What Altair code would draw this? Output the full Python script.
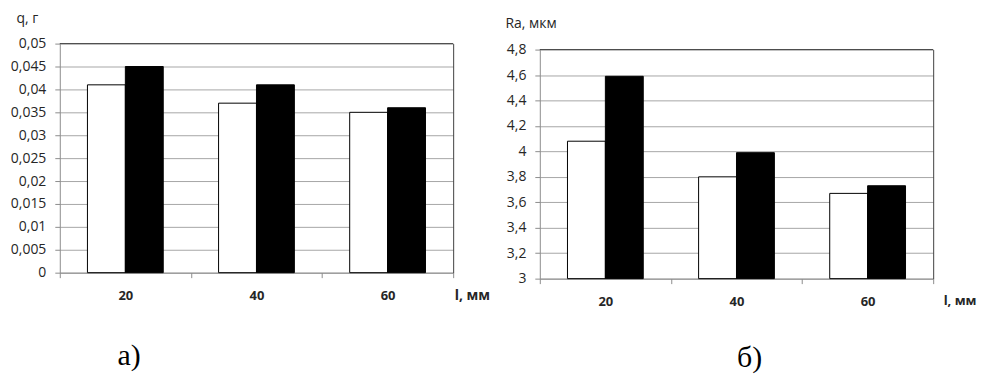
import altair as alt
import pandas as pd

# ---- data ----
lengths = ["20", "40", "60"]
series = ["1", "2"]
q_white = [0.041, 0.037, 0.035]
q_black = [0.045, 0.041, 0.036]
ra_white = [4.08, 3.80, 3.67]
ra_black = [4.59, 3.99, 3.73]
q_ticks = [0, 0.005, 0.01, 0.015, 0.02, 0.025, 0.03, 0.035, 0.04, 0.045, 0.05]
ra_ticks = [3, 3.2, 3.4, 3.6, 3.8, 4, 4.2, 4.4, 4.6, 4.8]

FONT = "Open Sans"
TEXT = "#262626"
GRID = "#a6a6a6"
AXIS = "#8c8c8c"
FRAME = "#404040"
LABEL_EXPR = "replace(toString(datum.value), '.', ',')"


def panel(white, black, ticks, ytitle, ytx, yty, xtx, xty, xtsize, letter, lx, ly,
          height, rng):
    df = pd.DataFrame({
        "l": lengths * 2,
        "s": [series[0]] * len(lengths) + [series[1]] * len(lengths),
        "v": white + black,
    })
    yscale = alt.Scale(domain=[ticks[0], ticks[-1]], range=rng, nice=False, zero=False)
    bars = alt.Chart(df).mark_bar(stroke="black", strokeWidth=1).encode(
        x=alt.X(
            "l:N", sort=lengths,
            scale=alt.Scale(paddingInner=0, paddingOuter=0),
            axis=alt.Axis(
                title="l, мм", titleX=xtx, titleY=xty, titleAlign="left",
                titleAngle=0, titleBaseline="middle", titleFontWeight="bold",
                titleFontSize=xtsize,
                tickBand="extent", tickSize=5, tickColor=AXIS, domainColor=AXIS,
                labelAngle=0, labelPadding=12, labelFontWeight="bold",
                labelFontSize=13, grid=False,
            ),
        ),
        xOffset=alt.XOffset("s:N", sort=series,
                            scale=alt.Scale(paddingInner=0, paddingOuter=0.73)),
        y=alt.Y(
            "v:Q", scale=yscale,
            axis=alt.Axis(
                values=ticks, labelExpr=LABEL_EXPR, title=ytitle,
                titleAngle=0, titleAlign="left", titleBaseline="middle",
                titleX=ytx, titleY=yty, grid=True, gridColor=GRID,
                tickSize=5, tickColor=AXIS, domainColor=AXIS, labelPadding=9,
            ),
        ),
        y2=alt.datum(ticks[0]),
        color=alt.Color("s:N", scale=alt.Scale(domain=series, range=["white", "black"]),
                        legend=None),
    )
    top = alt.Chart(pd.DataFrame({"v": [ticks[-1]]})).mark_rule(
        color=FRAME, strokeWidth=1
    ).encode(
        y=alt.Y("v:Q", scale=yscale,
                axis=alt.Axis(orient="right", labels=False, ticks=False, grid=False,
                              title=None, domainColor=FRAME)),
    )
    lab = alt.Chart(pd.DataFrame({"t": [letter]})).mark_text(
        font="Liberation Serif", fontSize=30, align="left", baseline="alphabetic",
        color="black",
    ).encode(text="t:N", x=alt.value(lx), y=alt.value(ly))
    return alt.layer(bars, top, lab).resolve_axis(y="independent").properties(
        width=395, height=height
    )


left = panel(q_white, q_black, q_ticks, "q, г", -44, -25, 396, 23, 14,
             "а)", 58, 323, 230, [230, 0])
right = panel(ra_white, ra_black, ra_ticks, "Ra, мкм", -35, -20, 405, 22, 13,
              "б)", 198, 325, 236, [236, 6])

chart = alt.hconcat(left, right, spacing=87, bounds="flush").properties(
    padding={"left": 2, "top": 3, "right": 0, "bottom": 0}
).configure_view(stroke=None).configure_axis(
    labelFont=FONT, labelFontSize=14, labelColor=TEXT,
    titleFont=FONT, titleFontSize=14, titleColor=TEXT, titleFontWeight="normal",
)

chart.save("out.html", embed_options={"renderer": "svg", "actions": False})
